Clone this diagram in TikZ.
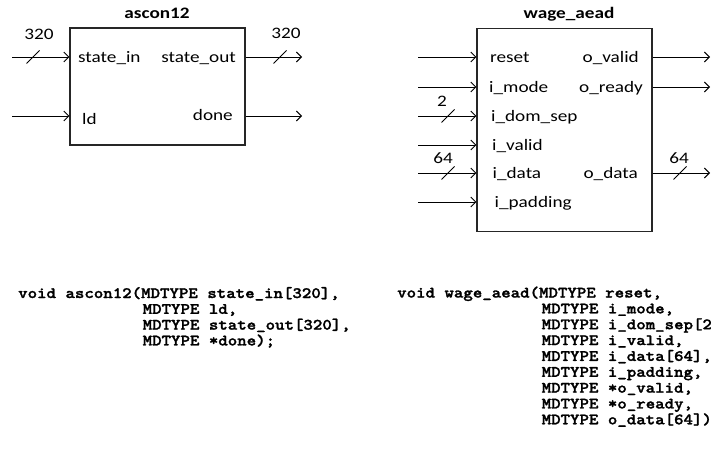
\documentclass[tikz,border=0pt]{standalone}
\usepackage{fontspec}
\usetikzlibrary{arrows.meta}
\newfontfamily\lblfont[FakeStretch=1.2]{Carlito}
\newfontfamily\ttlfont[FakeStretch=1.2]{Carlito Bold}
\newfontfamily\codefont{lmmonolt10-bold}[Extension=.otf, FakeStretch=1.14, FakeBold=1.6]

\tikzset{
  sig/.style={line width=0.9pt, -{Straight Barb[length=5pt,width=10pt,line width=0.9pt]}},
  blockbox/.style={draw=black!85, line width=1.2pt, inner sep=0pt},
  lbl/.style={font=\lblfont\fontsize{16}{18}\selectfont, inner sep=0pt},
  ttl/.style={font=\ttlfont\fontsize{16}{18}\selectfont, inner sep=0pt, anchor=base},
  buswidth/.style={font=\lblfont\fontsize{16}{18}\selectfont, inner sep=0pt, anchor=base},
  code/.style={font=\codefont\fontsize{15.8}{16}\selectfont, inner sep=0pt, anchor=base west},
  busmark/.pic={\draw[line width=0.9pt] (-6.5,6.5) -- (6.5,-6.5);}
}

\begin{document}
\begin{tikzpicture}[x=1pt,y=-1pt]
\useasboundingbox (0,0) rectangle (711,460);
\clip (0,0) rectangle (711,460);

% ---------------- ascon12 block ----------------
\node[blockbox, minimum width=175pt, minimum height=117pt] (asc) at (157.5,86.5) {};
\node[ttl] (ascT) at (157,19) {ascon12};

\node[lbl, anchor=base west] (ascSin)  at (78,62.5)  {state\_in};
\node[lbl, anchor=base east] (ascSout) at (236,62.5) {state\_out};
\node[lbl, anchor=base west] (ascLd)   at (82,124)   {ld};
\node[lbl, anchor=base east] (ascDone) at (233,120)  {done};

\coordinate (ascI1) at (12,57);
\coordinate (ascI2) at (12,116);
\coordinate (ascO1) at (302,57);
\coordinate (ascO2) at (302,116);
\draw[sig] (ascI1) -- (ascI1 -| asc.west);
\draw[sig] (ascI2) -- (ascI2 -| asc.west);
\draw[sig] (ascO1 -| asc.east) -- (ascO1);
\draw[sig] (ascO2 -| asc.east) -- (ascO2);

\pic at (33,57) {busmark};
\node[buswidth] (ascW1) at (39,40) {320};
\pic at (280,57) {busmark};
\node[buswidth] (ascW2) at (286,38.5) {320};

% ---------------- wage_aead block ----------------
\node[blockbox, minimum width=175pt, minimum height=203.5pt] (wg) at (564.5,130) {};
\node[ttl] (wgT) at (569,19) {wage\_aead};

\node[lbl, anchor=base west] (wgReset) at (490,62.5)  {reset};
\node[lbl, anchor=base west] (wgMode)  at (489,92.5)  {i\_mode};
\node[lbl, anchor=base west] (wgDom)   at (491,121.5) {i\_dom\_sep};
\node[lbl, anchor=base west] (wgVal)   at (492,150.5) {i\_valid};
\node[lbl, anchor=base west] (wgDat)   at (492.5,178.5) {i\_data};
\node[lbl, anchor=base west] (wgPad)   at (494.5,207.5) {i\_padding};
\node[lbl, anchor=base east] (wgOval)  at (639,62.5)  {o\_valid};
\node[lbl, anchor=base east] (wgOrdy)  at (643,92.5)  {o\_ready};
\node[lbl, anchor=base east] (wgOdat)  at (638,178.5) {o\_data};

\foreach \yy [count=\k] in {57,87,116,145,173,202} {
  \coordinate (wgI\k) at (418,\yy);
  \draw[sig] (wgI\k) -- (wgI\k -| wg.west);
}
\foreach \yy [count=\k] in {57,87,173} {
  \coordinate (wgO\k) at (710,\yy);
  \draw[sig] (wgO\k -| wg.east) -- (wgO\k);
}

\pic at (448,116) {busmark};
\node[buswidth] (wgW1) at (442,106) {2};
\pic at (448,173) {busmark};
\node[buswidth] (wgW2) at (443,163) {64};
\pic at (680,173) {busmark};
\node[buswidth] (wgW3) at (679,163) {64};

% ---------------- C prototypes ----------------
\node[code] (c1a) at (18,298)      {void ascon12(MDTYPE state\_in[320],};
\node[code] (c1b) at (142.5,313.8) {MDTYPE ld,};
\node[code] (c1c) at (142.5,329.6) {MDTYPE state\_out[320],};
\node[code] (c1d) at (142.5,345.4) {MDTYPE *done);};

\node[code] (c2a) at (397,297.5)   {void wage\_aead(MDTYPE reset,};
\node[code] (c2b) at (541.5,313.35) {MDTYPE i\_mode,};
\node[code] (c2c) at (541.5,329.2) {MDTYPE i\_dom\_sep[2],};
\node[code] (c2d) at (541.5,345.05) {MDTYPE i\_valid,};
\node[code] (c2e) at (541.5,360.9) {MDTYPE i\_data[64],};
\node[code] (c2f) at (541.5,376.75) {MDTYPE i\_padding,};
\node[code] (c2g) at (541.5,392.6) {MDTYPE *o\_valid,};
\node[code] (c2h) at (541.5,408.45) {MDTYPE *o\_ready,};
\node[code] (c2i) at (541.5,424.3) {MDTYPE o\_data[64]);};
\end{tikzpicture}
\end{document}
